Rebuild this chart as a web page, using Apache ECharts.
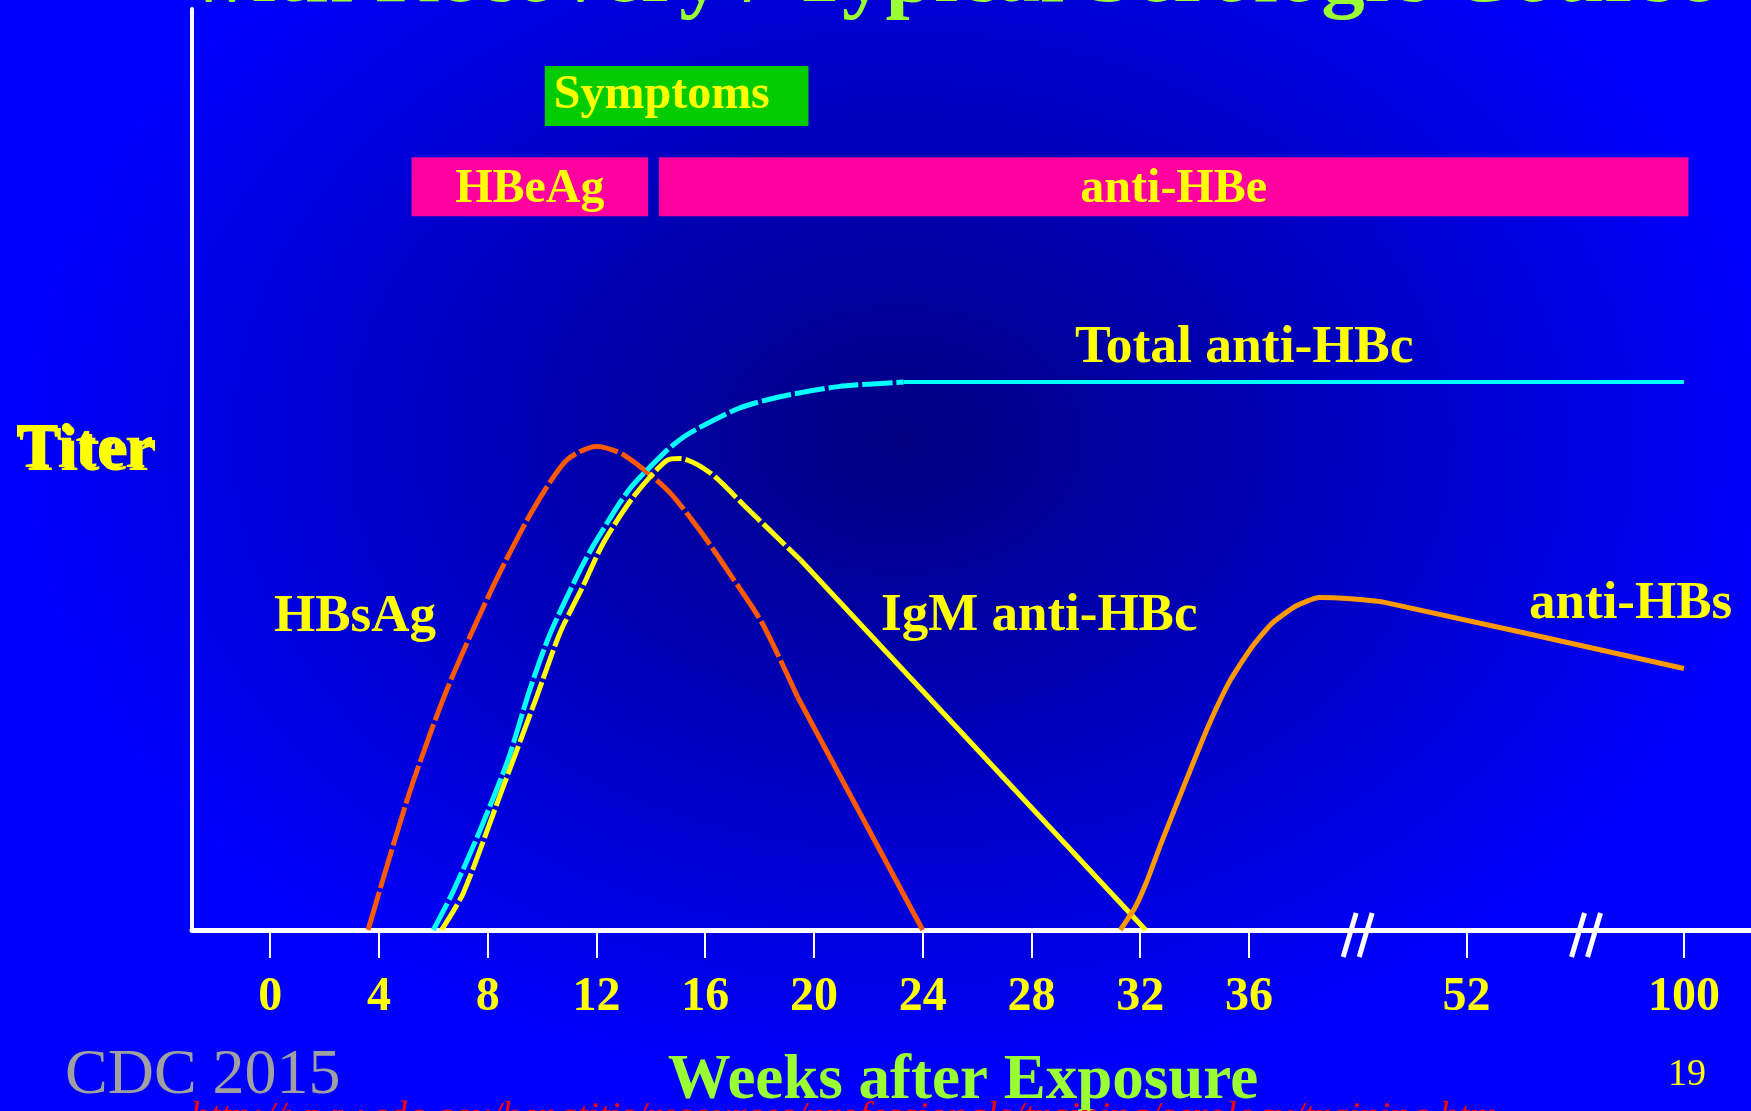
<!DOCTYPE html>
<html>
<head>
<meta charset="utf-8">
<script src="https://cdn.jsdelivr.net/npm/echarts@6/dist/echarts.min.js"></script>
<style>
html,body{margin:0;padding:0;background:#0000ff;overflow:hidden}
#c{width:1751px;height:1111px}
</style>
</head>
<body>
<div id="c"></div>
<script>
// ---------- data (weeks after exposure, relative titer 0-100) ----------
const tickWeeks  = [0, 4, 8, 12, 16, 20, 24, 28, 32, 36, 52, 100];
const tickLabels = ['0','4','8','12','16','20','24','28','32','36','52','100'];
const breakPositions = [10, 12.1];   // axis-break marks (axis index units)

const hbsagCurve = [[3.6,0],[5.1,14.7],[6.5,26.1],[8.1,36.7],[9.6,45.3],[10.9,51.0],[12.0,52.5],[13.0,51.6],[14.6,47.8],[15.8,43.4],[16.9,38.7],[18.1,33.3],[19.4,25.3]];
const hbsagTail  = [[19.4,25.3],[24.0,0]];

const totalAntiHbcCurve = [[6.0,0],[6.7,4.0],[7.7,10.7],[8.75,18.5],[9.55,26.1],[10.3,32.2],[11.4,39.1],[12.0,42.3],[13.2,47.8],[14.6,52.1],[15.4,53.9],[17.2,56.6],[18.75,57.9],[20.9,59.0],[23.3,59.5]];
const totalAntiHbcFlat  = [[23.3,59.5],[100,59.5]];

const igmAntiHbcCurve = [[6.3,0],[7.1,4.0],[8.5,15.0],[9.8,25.3],[10.65,32.2],[11.5,37.3],[12.25,42.0],[13.35,47.0],[14.6,51.0],[15.1,51.2],[16.2,49.6],[17.5,45.9],[19.5,40.2]];
const igmAntiHbcTail  = [[19.5,40.2],[32.2,0]];

const antiHbs = [[31.27,0],[31.82,2.5],[32.22,5.1],[32.77,9.4],[33.63,15.8],[34.5,22.1],[35.29,27.0],[36.16,30.6],[37.7,33.3],[39.5,35.2],[41.2,36.1],[43.2,36.0],[45.9,35.6],[100,28.4]];

const bandNames  = ['Symptoms', 'HBeAg', 'anti-HBe'];
const bandStart  = [10.1, 5.2, 14.3];
const bandEnd    = [19.8, 13.9, 101];
const bandTop    = [93.8, 83.9, 83.9];
const bandBottom = [87.3, 77.5, 77.5];

// broken axis: 0-36 linear, 36-52 and 52-100 compressed
function weekToPos(w){
  if (w <= 36) return w / 4;
  if (w <= 52) return 9 + (w - 36) / 8;
  return 11 + (w - 52) / 24;
}
const toPos = arr => arr.map(([w, t]) => [weekToPos(w), t]);
const tickPos = tickWeeks.map(weekToPos);

const SERIF = '"Liberation Serif","Times New Roman",serif';
const YEL = '#ffff00';
const LIME = '#99ff33';
const SH = (dx, dy) => ({textShadowColor:'#000', textShadowOffsetX:dx, textShadowOffsetY:dy, textShadowBlur:0});

const chart = echarts.init(document.getElementById('c'), null, {renderer:'canvas'});

function bandItem(params, api){
  const i = params.dataIndex;
  const p1 = api.coord([api.value(0), api.value(2)]);
  const p2 = api.coord([api.value(1), api.value(3)]);
  const fill = i === 0 ? '#00cc00' : '#ff00a0';
  const left = i === 0;
  return {
    type: 'group',
    children: [
      {type:'rect', shape:{x:p1[0], y:p1[1], width:p2[0]-p1[0], height:p2[1]-p1[1]}, style:{fill}},
      {type:'text', style:Object.assign({
        text: bandNames[i],
        x: left ? p1[0] + 9 : (p1[0] + p2[0]) / 2,
        y: (p1[1] + p2[1]) / 2 + (left ? 0 : 3),
        align: left ? 'left' : 'center',
        verticalAlign: 'middle',
        fill: YEL,
        font: 'bold 48px ' + SERIF
      }, SH(3,3))}
    ]
  };
}

function breakItem(params, api){
  const p = api.coord([api.value(0), 0]);
  const cx = p[0], cy = p[1];
  const mk = dx => ({type:'line', shape:{x1:cx+dx+6.5, y1:cy-17, x2:cx+dx-6.5, y2:cy+27}, style:{stroke:'#fff', lineWidth:5}});
  return {type:'group', children:[mk(-8), mk(8)]};
}

// text helper: x/y = anchor, vertical middle of em box
function txt(text, x, y, font, fill, align, extra){
  return {type:'text', x, y, z:10, silent:true,
    style:Object.assign({text, x:0, y:0, fill, font, align:align||'left', verticalAlign:'middle'}, extra||{})};
}

const bgW = 1751 / 1.35;
const option = {
  animation: false,
  backgroundColor: 'transparent',
  grid: {left:192, right:0, top:9, bottom:181, containLabel:false, outerBoundsMode:'none'},
  xAxis: {
    type:'value', min:-0.719, max:13.617,
    splitLine:{show:false},
    axisLine:{show:true, onZero:false, lineStyle:{color:'#ffffff', width:5}},
    axisTick:{show:true, customValues:tickPos, length:28, inside:false, lineStyle:{color:'#ffffff', width:2}},
    axisLabel:Object.assign({
      show:true, customValues:tickPos, margin:44,
      formatter: v => { const k = tickPos.findIndex(p => Math.abs(p - v) < 1e-6); return k >= 0 ? tickLabels[k] : ''; },
      color:YEL, fontFamily:SERIF, fontWeight:'bold', fontSize:48
    }, SH(3,3))
  },
  yAxis: {
    type:'value', min:0, max:100,
    splitLine:{show:false}, axisTick:{show:false}, axisLabel:{show:false},
    axisLine:{show:true, onZero:false, lineStyle:{color:'#ffffff', width:4}}
  },
  graphic: [
    {type:'rect', z:-100, silent:true, scaleX:1.35, x:0, y:0,
     shape:{x:0, y:0, width:bgW, height:1111},
     style:{fill:{type:'radial', x:900/1.35, y:440, r:660, global:true,
       colorStops:[{offset:0, color:'#000080'},{offset:1, color:'#0000ff'}]}}},
    txt('with Recovery / Typical Serologic Course', 952, -21, 'bold 87px '+SERIF, LIME, 'center', SH(4,4)),
    txt('Total anti-HBc', 1075, 348.5, 'bold 53.5px '+SERIF, YEL, 'left', SH(3,3)),
    txt('HBsAg', 274, 617, 'bold 53px '+SERIF, YEL, 'left', SH(3,3)),
    txt('IgM anti-HBc', 881, 616, 'bold 53px '+SERIF, YEL, 'left', SH(3,3)),
    txt('anti-HBs', 1529, 604, 'bold 53px '+SERIF, YEL, 'left', SH(3,3)),
    txt('Titer', 19, 453, 'bold 64px '+SERIF, YEL, 'left'),
    txt('Titer', 16, 450, 'bold 64px '+SERIF, YEL, 'left', SH(-3,-2)),
    txt('Weeks after Exposure', 963, 1082, 'bold 63px '+SERIF, LIME, 'center', SH(3,3)),
    txt('CDC 2015', 65, 1076, '64px '+SERIF, '#a0a0a0', 'left', SH(4,4)),
    txt('19', 1687, 1075, '38px '+SERIF, YEL, 'center'),
    txt('http://www.cdc.gov/hepatitis/resources/professionals/training/serology/training.htm', 190, 1118.5, 'italic 39px '+SERIF, '#ff0000', 'left')
  ],
  series: [
    {type:'custom', renderItem:bandItem, silent:true, z:3,
     data: bandNames.map((n,i)=>[weekToPos(bandStart[i]), weekToPos(bandEnd[i]), bandTop[i], bandBottom[i]])},
    {type:'custom', renderItem:breakItem, silent:true, z:6, clip:false,
     data: breakPositions.map(p=>[p])},
    {name:'HBsAg', type:'line', data:toPos(hbsagCurve), symbol:'none', z:2, smooth:0.25,
     lineStyle:{color:'#ff5a00', width:5, type:[40,4]}},
    {name:'HBsAg', type:'line', data:toPos(hbsagTail), symbol:'none', z:2,
     lineStyle:{color:'#ff5a00', width:5}},
    {name:'Total anti-HBc', type:'line', data:toPos(totalAntiHbcCurve), symbol:'none', z:2, smooth:0.25,
     lineStyle:{color:'#00ffff', width:5, type:[30,4]}},
    {name:'Total anti-HBc', type:'line', data:toPos(totalAntiHbcFlat), symbol:'none', z:2,
     lineStyle:{color:'#00ffff', width:4}},
    {name:'IgM anti-HBc', type:'line', data:toPos(igmAntiHbcCurve), symbol:'none', z:2, smooth:0.25,
     lineStyle:{color:'#ffff00', width:5, type:[30,4]}},
    {name:'IgM anti-HBc', type:'line', data:toPos(igmAntiHbcTail), symbol:'none', z:2,
     lineStyle:{color:'#ffff00', width:5}},
    {name:'anti-HBs', type:'line', data:toPos(antiHbs), symbol:'none', z:2, smooth:0.2,
     lineStyle:{color:'#ff9900', width:5}}
  ]
};
chart.setOption(option);
</script>
</body>
</html>
